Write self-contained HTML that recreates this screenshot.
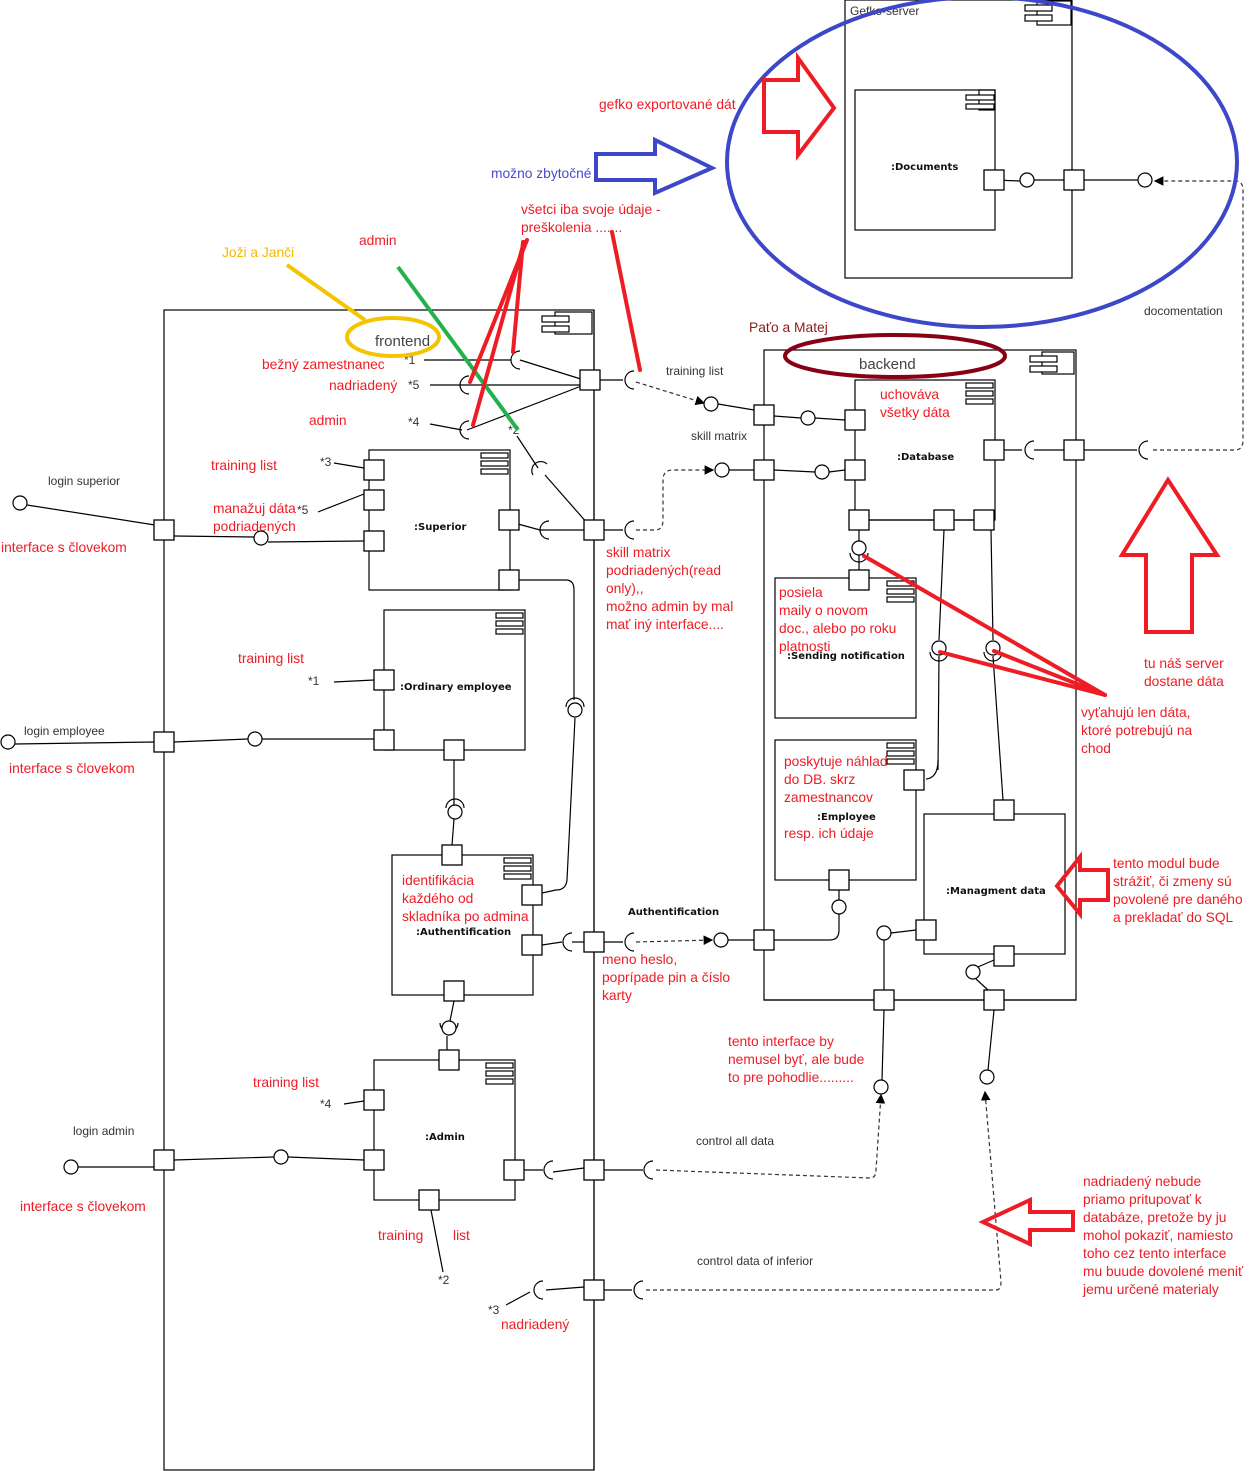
<!DOCTYPE html>
<html><head><meta charset="utf-8"><style>
html,body{margin:0;padding:0;background:#fff;width:1253px;height:1471px;overflow:hidden}
svg{display:block}
text{font-family:"Liberation Sans",sans-serif}
.r{fill:#ee1c24;font-size:13.8px}
.k{fill:#333;font-size:12px}
.b{fill:#111;font-size:10px;font-weight:bold;font-family:"DejaVu Sans",sans-serif}
.p{fill:#fff;stroke:#000;stroke-width:1.3}
.l{stroke:#000;stroke-width:1.2;fill:none}
.d{stroke:#333;stroke-width:1.2;fill:none;stroke-dasharray:4 3}
.c{fill:#fff;stroke:#000;stroke-width:1.2}
</style></head><body>
<svg width="1253" height="1471" viewBox="0 0 1253 1471" xmlns="http://www.w3.org/2000/svg">
<defs><marker id="a" markerWidth="8" markerHeight="8" refX="7" refY="4" orient="auto"><path d="M0,0 L8,4 L0,8 z" fill="#000"/></marker></defs>

<rect x="164" y="310" width="430" height="1160" class="l"/>
<g class="l"><rect x="555" y="312" width="37" height="22"/><rect x="542" y="316" width="27" height="6" fill="#fff"/><rect x="542" y="326" width="27" height="6" fill="#fff"/></g>
<rect x="764" y="350" width="312" height="650" class="l"/>
<g class="l"><rect x="1042" y="352" width="32" height="22"/><rect x="1030" y="356" width="27" height="6" fill="#fff"/><rect x="1030" y="366" width="27" height="6" fill="#fff"/></g>
<rect x="845" y="0" width="227" height="278" class="l"/>
<text x="850" y="15" class="k">Gefko-server</text>
<g class="l"><rect x="1037" y="1" width="34" height="24"/><rect x="1025" y="5" width="27" height="6" fill="#fff"/><rect x="1025" y="15" width="27" height="6" fill="#fff"/></g>
<rect x="855" y="90" width="140" height="140" class="l"/>
<g class="l"><rect x="979" y="90" width="16" height="20"/><rect x="966" y="95" width="28" height="5" fill="#fff"/><rect x="966" y="104" width="28" height="5" fill="#fff"/></g>
<text x="891" y="170" class="b">:Documents</text>

<g class="l">
<rect x="369" y="450" width="141" height="140"/>
<rect x="384" y="610" width="141" height="140"/>
<rect x="392" y="855" width="141" height="140"/>
<rect x="374" y="1060" width="141" height="140"/>
<rect x="855" y="380" width="140" height="140"/>
<rect x="775" y="578" width="141" height="140"/>
<rect x="775" y="740" width="141" height="140"/>
<rect x="924" y="814" width="141" height="140"/>
</g>
<g class="l" fill="#fff">
<rect x="481" y="453" width="27" height="5" fill="#fff"/><rect x="481" y="461" width="27" height="5" fill="#fff"/><rect x="481" y="469" width="27" height="5" fill="#fff"/>
<rect x="496" y="613" width="27" height="5" fill="#fff"/><rect x="496" y="621" width="27" height="5" fill="#fff"/><rect x="496" y="629" width="27" height="5" fill="#fff"/>
<rect x="504" y="858" width="27" height="5" fill="#fff"/><rect x="504" y="866" width="27" height="5" fill="#fff"/><rect x="504" y="874" width="27" height="5" fill="#fff"/>
<rect x="486" y="1063" width="27" height="5" fill="#fff"/><rect x="486" y="1071" width="27" height="5" fill="#fff"/><rect x="486" y="1079" width="27" height="5" fill="#fff"/>
<rect x="966" y="383" width="27" height="5" fill="#fff"/><rect x="966" y="391" width="27" height="5" fill="#fff"/><rect x="966" y="399" width="27" height="5" fill="#fff"/>
<rect x="887" y="581" width="27" height="5" fill="#fff"/><rect x="887" y="589" width="27" height="5" fill="#fff"/><rect x="887" y="597" width="27" height="5" fill="#fff"/>
<rect x="887" y="743" width="27" height="5" fill="#fff"/><rect x="887" y="751" width="27" height="5" fill="#fff"/><rect x="887" y="759" width="27" height="5" fill="#fff"/>
</g>
<text x="414" y="530" class="b">:Superior</text>
<text x="400" y="690" class="b">:Ordinary employee</text>
<text x="416" y="935" class="b">:Authentification</text>
<text x="425" y="1140" class="b">:Admin</text>
<text x="897" y="460" class="b">:Database</text>
<text x="787" y="659" class="b">:Sending notification</text>
<text x="817" y="820" class="b">:Employee</text>
<text x="946" y="894" class="b">:Managment data</text>

<g class="l">
<line x1="424" y1="360" x2="511" y2="360"/><line x1="520" y1="360" x2="584" y2="380"/>
<line x1="430" y1="385" x2="584" y2="385"/>
<line x1="430" y1="424" x2="462" y2="430"/><line x1="467" y1="430" x2="584" y2="385"/>
<line x1="517" y1="436" x2="538" y2="468"/><line x1="545" y1="475" x2="588" y2="524"/>
<line x1="594" y1="380" x2="623" y2="380"/>
<line x1="518" y1="524" x2="540" y2="530"/><line x1="540" y1="530" x2="584" y2="530"/>
<line x1="594" y1="530" x2="623" y2="530"/>
<line x1="27" y1="505" x2="155" y2="525"/>
<line x1="174" y1="536" x2="254" y2="537"/><line x1="268" y1="542" x2="364" y2="541"/>
<line x1="334" y1="463" x2="364" y2="468"/>
<line x1="318" y1="512" x2="364" y2="494"/>
<path d="M519 580 L566 580 Q574 580 574 590 L574 700"/>
<path d="M575 718 L567 880 Q566 890 556 890 L542 893"/>
<line x1="334" y1="682" x2="374" y2="680"/>
<line x1="15" y1="744" x2="155" y2="742"/><line x1="174" y1="742" x2="248" y2="739"/><line x1="262" y1="739" x2="374" y2="739"/>
<line x1="454" y1="760" x2="454" y2="805"/><line x1="454" y1="819" x2="452" y2="845"/>
<line x1="542" y1="945" x2="562" y2="942"/><line x1="572" y1="942" x2="584" y2="942"/>
<line x1="604" y1="942" x2="623" y2="942"/>
<line x1="454" y1="1001" x2="450" y2="1021"/><line x1="447" y1="1036" x2="447" y2="1050"/>
<line x1="78" y1="1167" x2="155" y2="1167"/><line x1="174" y1="1160" x2="274" y2="1157"/><line x1="288" y1="1157" x2="364" y2="1160"/>
<line x1="344" y1="1104" x2="364" y2="1101"/>
<line x1="524" y1="1170" x2="543" y2="1170"/><line x1="553" y1="1172" x2="584" y2="1168"/>
<line x1="604" y1="1170" x2="643" y2="1170"/>
<line x1="431" y1="1210" x2="443" y2="1272"/>
<line x1="506" y1="1305" x2="530" y2="1292"/><line x1="546" y1="1290" x2="584" y2="1287"/>
<line x1="604" y1="1290" x2="632" y2="1290"/>
<line x1="594" y1="310" x2="594" y2="1470"/>
<line x1="718" y1="404" x2="754" y2="410"/><line x1="774" y1="416" x2="801" y2="418"/><line x1="815" y1="418" x2="845" y2="420"/>
<line x1="729" y1="470" x2="754" y2="470"/><line x1="774" y1="470" x2="815" y2="472"/><line x1="829" y1="472" x2="845" y2="470"/>
<line x1="869" y1="520" x2="934" y2="520"/><line x1="954" y1="520" x2="974" y2="520"/>
<line x1="859" y1="530" x2="859" y2="541"/><line x1="859" y1="555" x2="859" y2="570"/>
<line x1="944" y1="530" x2="939" y2="640"/><line x1="939" y1="656" x2="938" y2="770"/>
<path d="M938 760 Q938 778 926 779"/>
<line x1="991" y1="530" x2="993" y2="640"/><line x1="993" y1="656" x2="1003" y2="800"/>
<line x1="728" y1="940" x2="754" y2="940"/>
<path d="M774 940 L830 940 Q839 940 839 930 L839 914"/><line x1="839" y1="900" x2="839" y2="890"/>
<line x1="891" y1="933" x2="916" y2="930"/>
<line x1="884" y1="940" x2="884" y2="990"/>
<line x1="764" y1="1000" x2="1076" y2="1000"/>
<line x1="884" y1="1010" x2="882" y2="1080"/>
<line x1="994" y1="1010" x2="988" y2="1070"/>
<line x1="978" y1="967" x2="994" y2="960"/>
<line x1="976" y1="979" x2="988" y2="990"/>
<line x1="1004" y1="450" x2="1022" y2="450"/><line x1="1034" y1="450" x2="1064" y2="450"/><line x1="1084" y1="450" x2="1137" y2="450"/>
<line x1="994" y1="180" x2="1020" y2="181"/><line x1="1034" y1="180" x2="1064" y2="180"/><line x1="1084" y1="180" x2="1138" y2="180"/>
</g>
<path d="M636 382 L704 403" class="d" marker-end="url(#a)"/>
<path d="M636 530 L655 530 Q663 530 663 520 L663 480 Q663 470 673 470 L713 470" class="d" marker-end="url(#a)"/>
<path d="M636 942 L712 940" class="d" marker-end="url(#a)"/>
<path d="M656 1170 L870 1178 Q876 1178 876 1170 L881 1095" class="d" marker-end="url(#a)"/>
<path d="M646 1290 L996 1290 Q1001 1290 1001 1282 L985 1092" class="d" marker-end="url(#a)"/>
<path d="M1153 450 L1235 450 Q1243 450 1243 440 L1243 190 Q1243 181 1235 181 L1155 181" class="d" marker-end="url(#a)"/>

<g class="l">
<path d="M520 351 A9 9 0 0 0 520 369"/>
<path d="M469 376 A9 9 0 0 0 469 394"/>
<path d="M469 421 A9 9 0 0 0 469 439"/>
<path d="M533 475 A9 9 0 0 1 547 464"/>
<path d="M549 521 A9 9 0 0 0 549 539"/>
<path d="M634 371 A9 9 0 0 0 634 389"/>
<path d="M634 521 A9 9 0 0 0 634 539"/>
<path d="M566 707 A9 9 0 0 1 584 707"/>
<path d="M446 808 A9 9 0 0 1 464 808"/>
<path d="M572 933 A9 9 0 0 0 572 951"/>
<path d="M634 933 A9 9 0 0 0 634 951"/>
<path d="M440 1023 A9 9 0 0 0 458 1023"/>
<path d="M553 1161 A9 9 0 0 0 553 1179"/>
<path d="M653 1161 A9 9 0 0 0 653 1179"/>
<path d="M543 1281 A9 9 0 0 0 543 1299"/>
<path d="M643 1281 A9 9 0 0 0 643 1299"/>
<path d="M1034 441 A9 9 0 0 0 1034 459"/>
<path d="M1148 441 A9 9 0 0 0 1148 459"/>
<path d="M850 553 A9 9 0 0 0 868 553"/>
<path d="M930 652 A9 9 0 0 0 948 652"/>
<path d="M984 652 A9 9 0 0 0 1002 652"/>
</g>
<g class="c">
<circle cx="20" cy="503" r="7"/><circle cx="261" cy="538" r="7"/><circle cx="8" cy="742" r="7"/><circle cx="255" cy="739" r="7"/>
<circle cx="71" cy="1167" r="7"/><circle cx="281" cy="1157" r="7"/><circle cx="711" cy="404" r="7"/><circle cx="808" cy="418" r="7"/>
<circle cx="722" cy="470" r="7"/><circle cx="822" cy="472" r="7"/><circle cx="721" cy="940" r="7"/><circle cx="839" cy="907" r="7"/>
<circle cx="1027" cy="180" r="7"/><circle cx="1145" cy="180" r="7"/><circle cx="881" cy="1087" r="7"/><circle cx="987" cy="1077" r="7"/>
<circle cx="884" cy="933" r="7"/><circle cx="973" cy="972" r="7"/><circle cx="859" cy="548" r="7"/><circle cx="575" cy="710" r="7"/>
<circle cx="455" cy="812" r="7"/><circle cx="449" cy="1028" r="7"/><circle cx="939" cy="648" r="7"/><circle cx="993" cy="648" r="7"/>
</g>
<g class="p">
<rect x="580" y="370" width="20" height="20"/><rect x="584" y="520" width="20" height="20"/><rect x="584" y="932" width="20" height="20"/>
<rect x="584" y="1160" width="20" height="20"/><rect x="584" y="1280" width="20" height="20"/>
<rect x="154" y="520" width="20" height="20"/><rect x="154" y="732" width="20" height="20"/><rect x="154" y="1150" width="20" height="20"/>
<rect x="364" y="460" width="20" height="20"/><rect x="364" y="490" width="20" height="20"/><rect x="364" y="531" width="20" height="20"/>
<rect x="499" y="510" width="20" height="20"/><rect x="499" y="570" width="20" height="20"/>
<rect x="374" y="670" width="20" height="20"/><rect x="374" y="730" width="20" height="20"/><rect x="444" y="740" width="20" height="20"/>
<rect x="442" y="845" width="20" height="20"/><rect x="522" y="885" width="20" height="20"/><rect x="522" y="935" width="20" height="20"/><rect x="444" y="981" width="20" height="20"/>
<rect x="439" y="1050" width="20" height="20"/><rect x="364" y="1090" width="20" height="20"/><rect x="364" y="1150" width="20" height="20"/>
<rect x="504" y="1160" width="20" height="20"/><rect x="419" y="1190" width="20" height="20"/>
<rect x="754" y="405" width="20" height="20"/><rect x="754" y="460" width="20" height="20"/><rect x="754" y="930" width="20" height="20"/>
<rect x="874" y="990" width="20" height="20"/><rect x="984" y="990" width="20" height="20"/><rect x="1064" y="440" width="20" height="20"/>
<rect x="845" y="410" width="20" height="20"/><rect x="845" y="460" width="20" height="20"/><rect x="849" y="510" width="20" height="20"/>
<rect x="934" y="510" width="20" height="20"/><rect x="974" y="510" width="20" height="20"/><rect x="984" y="440" width="20" height="20"/>
<rect x="849" y="570" width="20" height="20"/><rect x="904" y="770" width="20" height="20"/><rect x="829" y="870" width="20" height="20"/>
<rect x="994" y="800" width="20" height="20"/><rect x="916" y="920" width="20" height="20"/><rect x="994" y="946" width="20" height="20"/>
<rect x="984" y="170" width="20" height="20"/><rect x="1064" y="170" width="20" height="20"/>
</g>

<g class="k">
<text x="404" y="364">*1</text><text x="408" y="389">*5</text><text x="408" y="426">*4</text><text x="508" y="434">*2</text>
<text x="320" y="466">*3</text><text x="297" y="514">*5</text><text x="308" y="685">*1</text><text x="320" y="1108">*4</text>
<text x="438" y="1284">*2</text><text x="488" y="1314">*3</text>
<text x="48" y="485">login superior</text><text x="24" y="735">login employee</text><text x="73" y="1135">login admin</text>
<text x="666" y="375">training list</text><text x="691" y="440">skill matrix</text>
<text x="696" y="1145">control all data</text><text x="697" y="1265">control data of inferior</text>
<text x="1144" y="315">docomentation</text>
</g>
<text x="628" y="915" class="b">Authentification</text>
<text x="375" y="346" style="font-size:15px;fill:#444">frontend</text>
<text x="859" y="369" style="font-size:15px;fill:#444">backend</text>

<g class="r">
<text x="599" y="109">gefko exportované dát</text>
<text x="491" y="178" style="fill:#4a4ad0">možno zbytočné</text>
<text x="521" y="214">všetci iba svoje údaje -</text><text x="521" y="232">preškolenia .......</text>
<text x="359" y="245">admin</text>
<text x="222" y="257" style="fill:#f5b800">Joži a Janči</text>
<text x="749" y="332" style="fill:#8b1a1a">Paťo a Matej</text>
<text x="262" y="369">bežný zamestnanec</text>
<text x="329" y="390">nadriadený</text>
<text x="309" y="425">admin</text>
<text x="211" y="470">training list</text>
<text x="213" y="513">manažuj dáta</text><text x="213" y="531">podriadených</text>
<text x="1" y="552">interface s človekom</text>
<text x="606" y="557">skill matrix</text><text x="606" y="575">podriadených(read</text><text x="606" y="593">only),,</text><text x="606" y="611">možno admin by mal</text><text x="606" y="629">mať iný interface....</text>
<text x="238" y="663">training list</text>
<text x="9" y="773">interface s človekom</text>
<text x="402" y="885">identifikácia</text><text x="402" y="903">každého od</text><text x="402" y="921">skladníka po admina</text>
<text x="602" y="964">meno heslo,</text><text x="602" y="982">poprípade pin a číslo</text><text x="602" y="1000">karty</text>
<text x="253" y="1087">training list</text>
<text x="20" y="1211">interface s človekom</text>
<text x="378" y="1240">training</text><text x="453" y="1240">list</text>
<text x="501" y="1329">nadriadený</text>
<text x="880" y="399">uchováva</text><text x="880" y="417">všetky dáta</text>
<text x="779" y="597">posiela</text><text x="779" y="615">maily o novom</text><text x="779" y="633">doc., alebo po roku</text><text x="779" y="651">platnosti</text>
<text x="784" y="766">poskytuje náhlad</text><text x="784" y="784">do DB. skrz</text><text x="784" y="802">zamestnancov</text><text x="784" y="838">resp. ich údaje</text>
<text x="1144" y="668">tu náš server</text><text x="1144" y="686">dostane dáta</text>
<text x="1081" y="717">vyťahujú len dáta,</text><text x="1081" y="735">ktoré potrebujú na</text><text x="1081" y="753">chod</text>
<text x="1113" y="868">tento modul bude</text><text x="1113" y="886">strážiť, či zmeny sú</text><text x="1113" y="904">povolené pre daného</text><text x="1113" y="922">a prekladať do SQL</text>
<text x="728" y="1046">tento interface by</text><text x="728" y="1064">nemusel byť, ale bude</text><text x="728" y="1082">to pre pohodlie.........</text>
<text x="1083" y="1186">nadriadený nebude</text><text x="1083" y="1204">priamo pritupovať k</text><text x="1083" y="1222">databáze, pretože by ju</text><text x="1083" y="1240">mohol pokaziť, namiesto</text><text x="1083" y="1258">toho cez tento interface</text><text x="1083" y="1276">mu buude dovolené meniť</text><text x="1083" y="1294">jemu určené materialy</text>
</g>

<ellipse cx="982" cy="162" rx="255" ry="165" fill="none" stroke="#3c48c8" stroke-width="4"/>
<ellipse cx="393" cy="337" rx="46" ry="19" fill="none" stroke="#f5c400" stroke-width="4"/>
<line x1="287" y1="265" x2="365" y2="320" stroke="#f5c400" stroke-width="4"/>
<ellipse cx="895" cy="356" rx="110" ry="21" fill="none" stroke="#880015" stroke-width="4"/>
<line x1="398" y1="267" x2="518" y2="430" stroke="#22b14c" stroke-width="4"/>
<g stroke="#ee1c24" stroke-width="4" fill="none" stroke-linecap="round">
<line x1="527" y1="240" x2="470" y2="382"/><line x1="524" y1="242" x2="473" y2="425"/><line x1="523" y1="242" x2="513" y2="352"/>
<line x1="612" y1="232" x2="640" y2="370"/>
<line x1="1105" y1="695" x2="864" y2="556"/><line x1="1105" y1="695" x2="940" y2="652"/><line x1="1105" y1="695" x2="994" y2="651"/>
<polygon points="764,80 798,80 798,58 834,108 798,155 798,132 764,132"/>
<polygon points="1122,555 1168,480 1217,555 1192,555 1192,632 1146,632 1146,555"/>
<polygon points="1108,870 1080,870 1080,857 1057,886 1080,914 1080,900 1108,900"/>
<polygon points="1073,1212 1030,1212 1030,1200 983,1222 1030,1244 1030,1230 1073,1230"/>
</g>
<polygon points="596,154 655,154 655,140 712,168 655,193 655,180 596,180" fill="none" stroke="#3c48c8" stroke-width="4"/>
</svg>
</body></html>
